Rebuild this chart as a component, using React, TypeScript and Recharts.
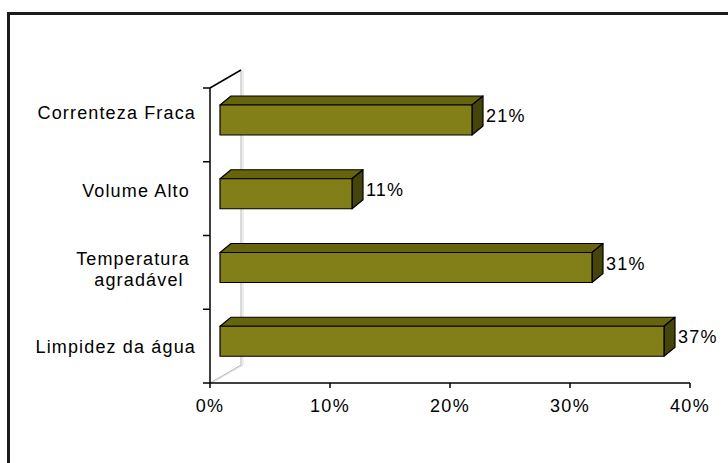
import { BarChart, Bar, XAxis, YAxis, LabelList, usePlotArea } from "recharts";

const categories = [
  "Correnteza Fraca",
  "Volume Alto\u00a0",
  "Temperatura\u00a0\nagradável\u00a0\u00a0",
  "Limpidez da água",
];
const shares = [21, 11, 31, 37];
const xTicks = [0, 10, 20, 30, 40];

const data = categories.map((name, i) => ({ name, value: shares[i] }));

const FONT = "'Liberation Sans', Arial, sans-serif";
const FRONT = "#827f18";
const TOP = "#66640f";
const SIDE = "#45440a";

// 3d offsets (depth of the bars and of the back wall)
const DX = 11;
const DY = 9;
const SHIFT_X = 10;
const SHIFT_Y = -5;

function Bar3D(props: any) {
  const { x, y, width, height } = props;
  if (width == null || height == null) return null;
  const fx = x + SHIFT_X;
  const fy = y + SHIFT_Y;
  const w = width;
  const h = height;
  return (
    <g stroke="#000" strokeWidth={1.2} strokeLinejoin="round">
      <polygon points={`${fx},${fy} ${fx + DX},${fy - DY} ${fx + w + DX},${fy - DY} ${fx + w},${fy}`} fill={TOP} />
      <polygon points={`${fx + w},${fy} ${fx + w + DX},${fy - DY} ${fx + w + DX},${fy + h - DY} ${fx + w},${fy + h}`} fill={SIDE} />
      <rect x={fx} y={fy} width={w} height={h} fill={FRONT} />
    </g>
  );
}

function BarValue(props: any) {
  const { x, y, width, height, value } = props;
  return (
    <text
      x={x + SHIFT_X + width + DX + 3}
      y={y + SHIFT_Y + height / 2 - 4}
      dominantBaseline="central"
      fontFamily={FONT}
      fontSize={18}
      letterSpacing={1.2}
      fill="#000"
    >
      {value}%
    </text>
  );
}

function CategoryTick(props: any) {
  const { x, y, payload, index } = props;
  const lines = String(payload.value).split("\n");
  const lh = 21;
  // excel spreads the labels a little wider than the bands
  const cy = y + (index - 1.5) * 4.3 - 5.5;
  const start = cy - ((lines.length - 1) * lh) / 2;
  return (
    <text x={x - 6} textAnchor="end" fontFamily={FONT} fontSize={18} letterSpacing={1.15} fill="#000" style={{ whiteSpace: "pre" }}>
      {lines.map((l, i) => (
        <tspan key={i} x={x - 6} y={start + i * lh} dominantBaseline="central">
          {l}
        </tspan>
      ))}
    </text>
  );
}

function PercentTick(props: any) {
  const { x, y, payload } = props;
  return (
    <text x={x} y={y + 16} textAnchor="middle" dominantBaseline="central" fontFamily={FONT} fontSize={18} letterSpacing={1.3} fill="#000">
      {payload.value}%
    </text>
  );
}

function Walls() {
  const area = usePlotArea();
  if (!area) return null;
  const { x, y, height } = area;
  const wx = 31;
  const wy = 18;
  const n = categories.length;
  return (
    <g>
      <line x1={x + wx} y1={y - wy} x2={x + wx} y2={y + height - wy} stroke="#b5b5b5" strokeWidth={1} />
      <line x1={x + wx + 2} y1={y - wy} x2={x + wx + 2} y2={y + height - wy} stroke="#dcdcdc" strokeWidth={1} />
      <line x1={x} y1={y + height} x2={x + wx} y2={y + height - wy} stroke="#b5b5b5" strokeWidth={1} />
      <line x1={x + 2} y1={y + height} x2={x + wx + 2} y2={y + height - wy} stroke="#dcdcdc" strokeWidth={1} />
      <line x1={x} y1={y} x2={x + wx} y2={y - wy} stroke="#000" strokeWidth={1.5} />
      {Array.from({ length: n + 1 }, (_, i) => (
        <line key={i} x1={x - 7} y1={y + (i * height) / n} x2={x} y2={y + (i * height) / n} stroke="#000" strokeWidth={1.5} />
      ))}
    </g>
  );
}

export default function App() {
  return (
    <div style={{ position: "fixed", left: 0, top: 0, width: 728, height: 463, background: "#fff", overflow: "hidden" }}>
      <div
        style={{
          position: "absolute",
          left: 7,
          top: 12,
          width: 718,
          height: 448,
          borderLeft: "3px solid #1a1a1a",
          borderTop: "3px solid #1a1a1a",
        }}
      />
      <div style={{ position: "absolute", left: 0, top: 0 }}>
        <BarChart
          width={728}
          height={463}
          data={data}
          layout="vertical"
          margin={{ top: 88, right: 38, bottom: 50, left: 0 }}
          barSize={30}
        >
          <Walls />
          <XAxis
            type="number"
            domain={[0, 40]}
            ticks={xTicks}
            interval={0}
            height={30}
            tick={<PercentTick />}
            tickSize={5}
            axisLine={{ stroke: "#000", strokeWidth: 1.5 }}
            tickLine={{ stroke: "#000", strokeWidth: 1.5 }}
          />
          <YAxis
            type="category"
            dataKey="name"
            width={210}
            tick={<CategoryTick />}
            tickLine={false}
            axisLine={{ stroke: "#000", strokeWidth: 1.5 }}
            interval={0}
          />
          <Bar dataKey="value" shape={<Bar3D />} isAnimationActive={false}>
            <LabelList dataKey="value" content={<BarValue />} />
          </Bar>
        </BarChart>
      </div>
    </div>
  );
}
